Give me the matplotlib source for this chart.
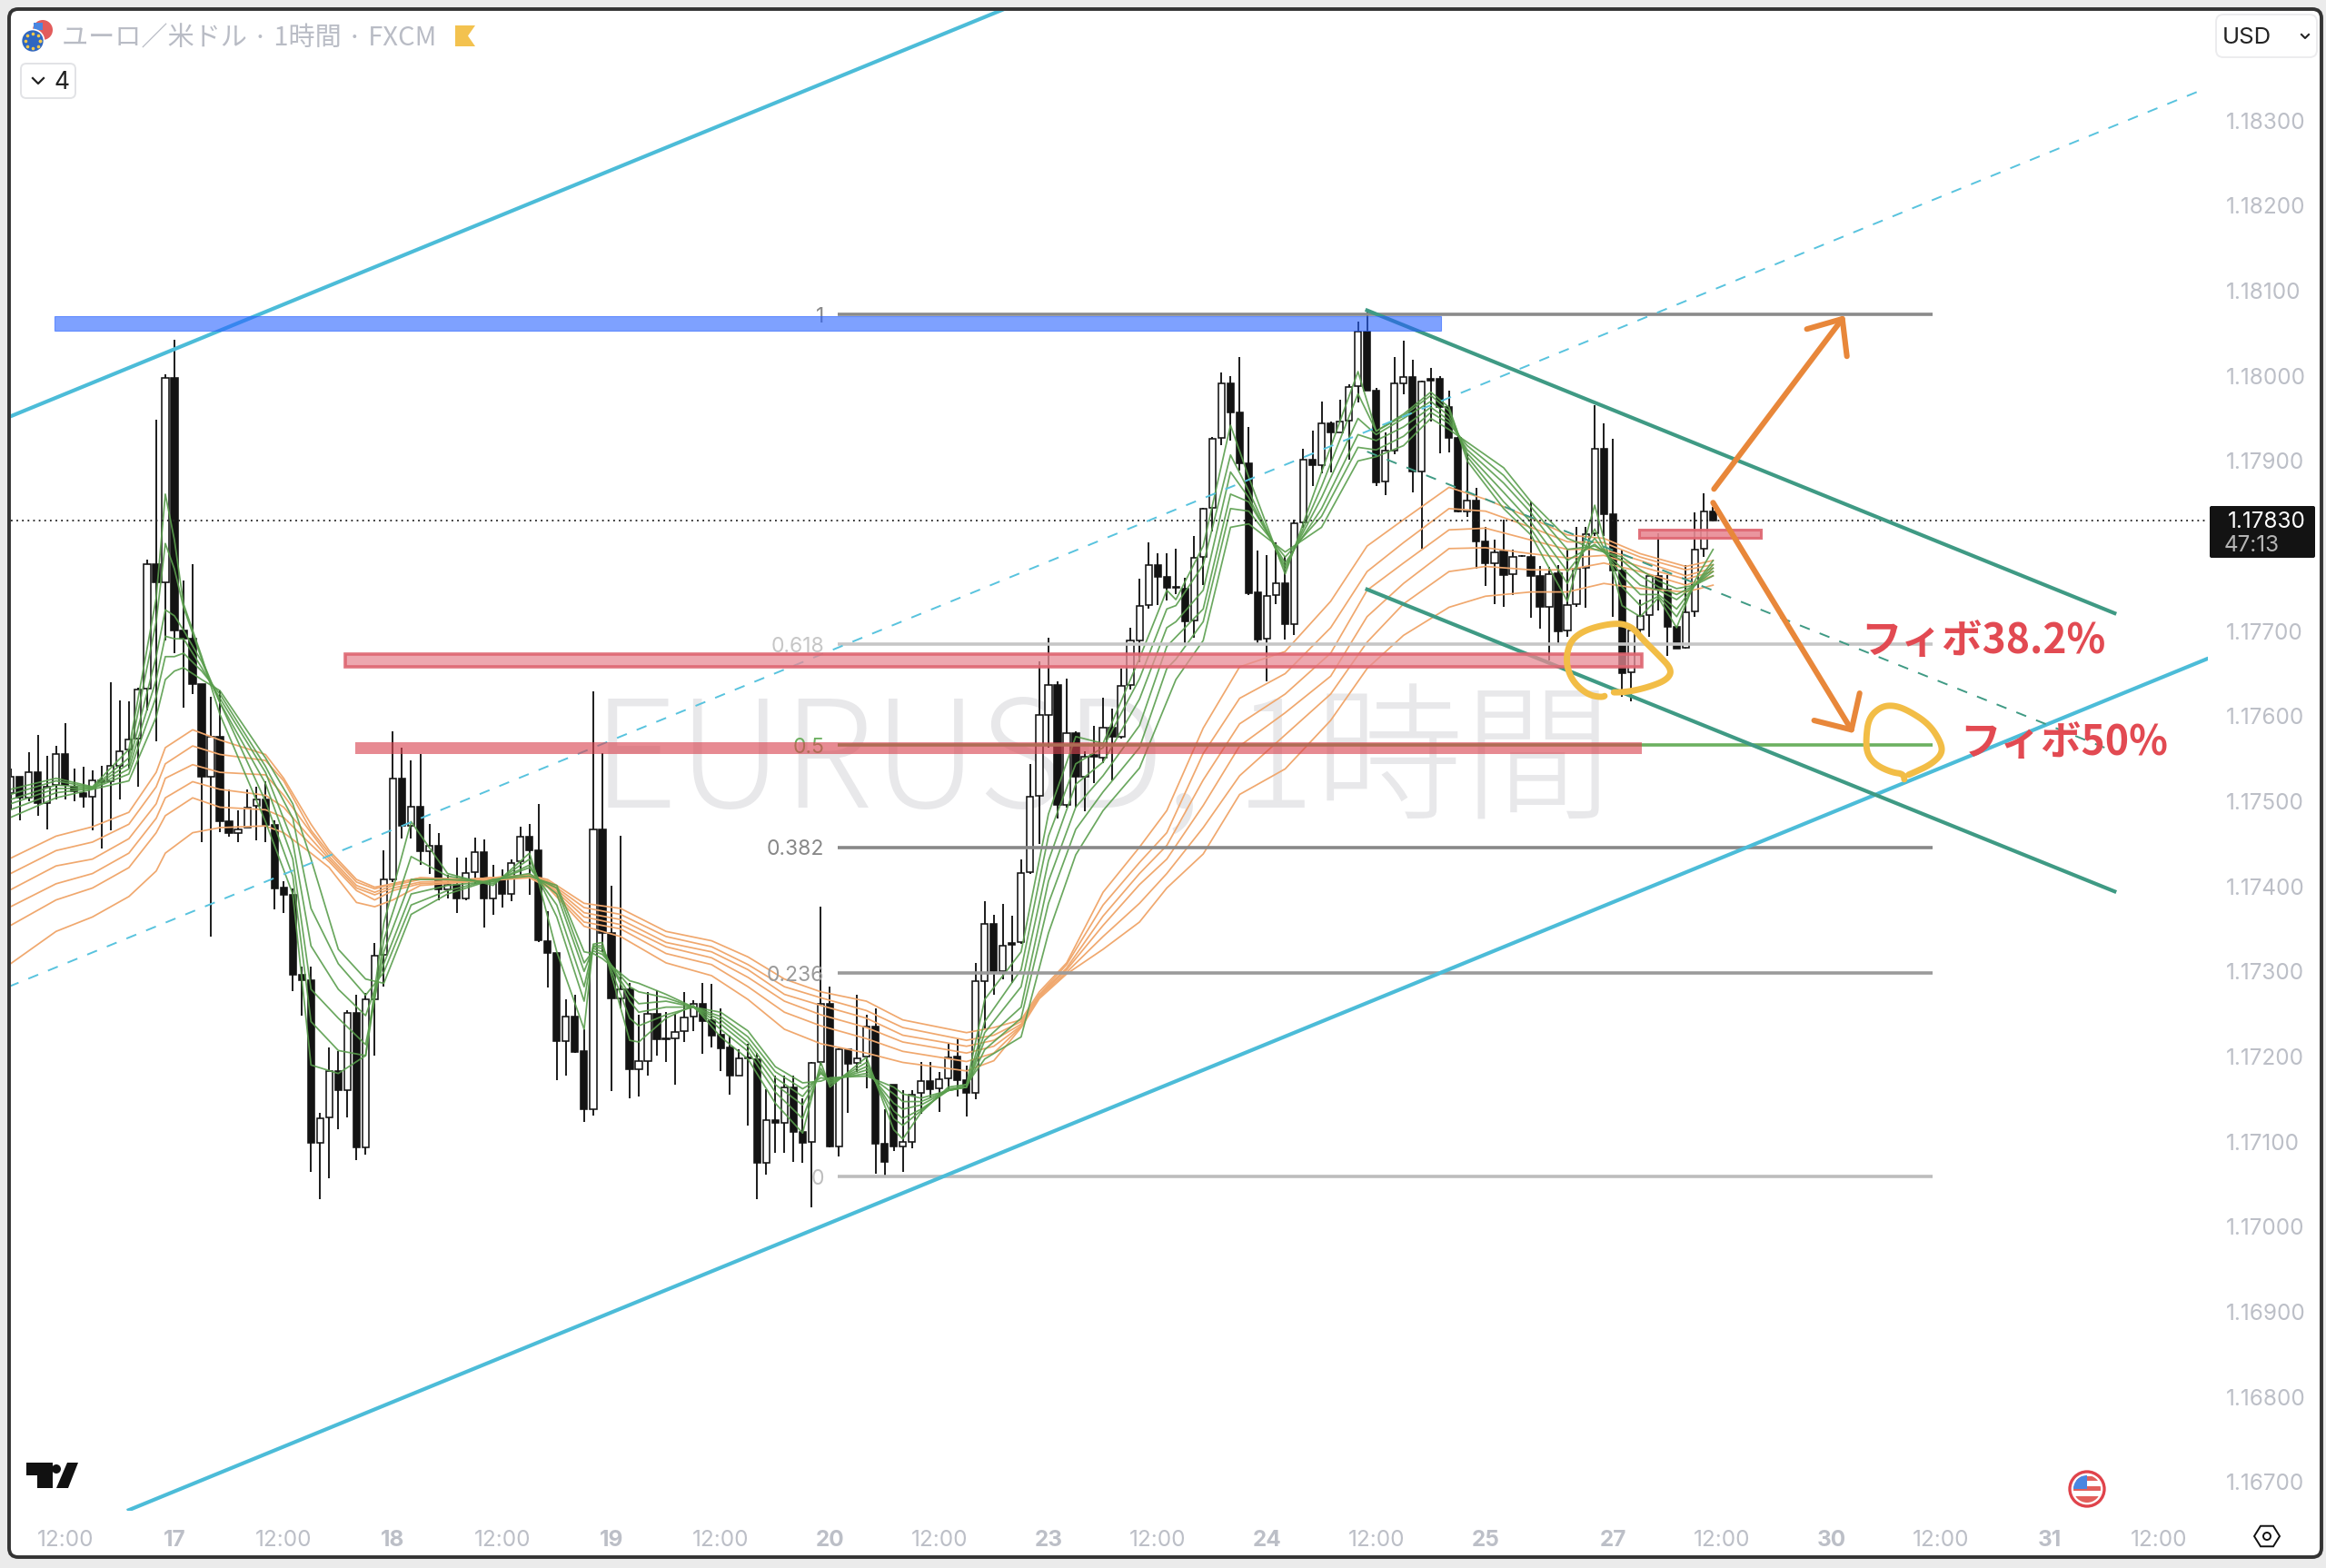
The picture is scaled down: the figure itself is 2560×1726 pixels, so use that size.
import numpy as np
import matplotlib
matplotlib.use('Agg')
import matplotlib.pyplot as plt
from matplotlib.patches import Rectangle, FancyBboxPatch, Circle, Polygon

plt.rcParams['font.family'] = ['Noto Sans CJK JP', 'DejaVu Sans']

# ---------------------------------------------------------------- candles
# one bar per hour, bar 0 is the "17" tick
first_bar = -18
opens = [
    1.17510, 1.17529, 1.17504, 1.17534, 1.17498, 1.17519, 1.17555, 1.17517, 1.17510, 1.17505,
    1.17524, 1.17524, 1.17542, 1.17561, 1.17574, 1.17632, 1.17779, 1.17757, 1.17997, 1.17701,
    1.17691, 1.17638, 1.17529, 1.17576, 1.17476, 1.17463, 1.17469, 1.17495, 1.17502, 1.17472,
    1.17398, 1.17390, 1.17296, 1.17290, 1.17098, 1.17128, 1.17183, 1.17160, 1.17251, 1.17093,
    1.17267, 1.17319, 1.17408, 1.17527, 1.17471, 1.17493, 1.17441, 1.17448, 1.17396, 1.17402,
    1.17386, 1.17417, 1.17440, 1.17386, 1.17407, 1.17391, 1.17429, 1.17458, 1.17442, 1.17335,
    1.17322, 1.17218, 1.17247, 1.17206, 1.17138, 1.17467, 1.17345, 1.17268, 1.17279, 1.17185,
    1.17195, 1.17250, 1.17221, 1.17221, 1.17230, 1.17247, 1.17262, 1.17242, 1.17225, 1.17210,
    1.17177, 1.17199, 1.17197, 1.17075, 1.17125, 1.17122, 1.17163, 1.17111, 1.17100, 1.17193,
    1.17262, 1.17094, 1.17208, 1.17192, 1.17200, 1.17235, 1.17097, 1.17167, 1.17094, 1.17100,
    1.17157, 1.17171, 1.17163, 1.17174, 1.17200, 1.17172, 1.17157, 1.17289, 1.17356, 1.17300,
    1.17333, 1.17334, 1.17417, 1.17506, 1.17601, 1.17637, 1.17496, 1.17580, 1.17529, 1.17554,
    1.17551, 1.17586, 1.17576, 1.17637, 1.17689, 1.17731, 1.17777, 1.17764, 1.17752, 1.17750,
    1.17712, 1.17787, 1.17845, 1.17927, 1.17991, 1.17957, 1.17897, 1.17745, 1.17691, 1.17742,
    1.17756, 1.17708, 1.17828, 1.17901, 1.17895, 1.17944, 1.17934, 1.17947, 1.17988, 1.18052,
    1.17983, 1.17876, 1.17912, 1.17991, 1.17999, 1.17888, 1.17996, 1.17996, 1.17963, 1.17927,
    1.17841, 1.17853, 1.17805, 1.17780, 1.17794, 1.17767, 1.17788, 1.17787, 1.17765, 1.17729,
    1.17768, 1.17701, 1.17732, 1.17774, 1.17815, 1.17914, 1.17837, 1.17771, 1.17652, 1.17702,
    1.17719, 1.17765, 1.17749, 1.17705, 1.17680, 1.17723, 1.17797, 1.17840,
]
closes = [
    1.17529, 1.17504, 1.17534, 1.17498, 1.17517, 1.17555, 1.17519, 1.17512, 1.17505, 1.17524,
    1.17522, 1.17541, 1.17559, 1.17572, 1.17631, 1.17779, 1.17757, 1.17997, 1.17701, 1.17691,
    1.17638, 1.17529, 1.17576, 1.17476, 1.17463, 1.17467, 1.17492, 1.17502, 1.17472, 1.17398,
    1.17390, 1.17296, 1.17290, 1.17098, 1.17127, 1.17183, 1.17160, 1.17251, 1.17093, 1.17267,
    1.17318, 1.17408, 1.17527, 1.17471, 1.17493, 1.17441, 1.17448, 1.17396, 1.17402, 1.17386,
    1.17416, 1.17440, 1.17386, 1.17407, 1.17391, 1.17427, 1.17458, 1.17442, 1.17337, 1.17322,
    1.17218, 1.17247, 1.17205, 1.17138, 1.17467, 1.17345, 1.17268, 1.17279, 1.17185, 1.17194,
    1.17250, 1.17220, 1.17220, 1.17229, 1.17246, 1.17262, 1.17242, 1.17225, 1.17210, 1.17177,
    1.17198, 1.17198, 1.17075, 1.17125, 1.17122, 1.17163, 1.17111, 1.17099, 1.17192, 1.17262,
    1.17094, 1.17208, 1.17191, 1.17198, 1.17235, 1.17097, 1.17076, 1.17094, 1.17099, 1.17155,
    1.17171, 1.17162, 1.17173, 1.17199, 1.17172, 1.17157, 1.17288, 1.17356, 1.17300, 1.17330,
    1.17331, 1.17416, 1.17505, 1.17601, 1.17637, 1.17496, 1.17580, 1.17529, 1.17552, 1.17552,
    1.17586, 1.17576, 1.17635, 1.17689, 1.17730, 1.17777, 1.17764, 1.17751, 1.17751, 1.17711,
    1.17786, 1.17844, 1.17926, 1.17991, 1.17957, 1.17897, 1.17745, 1.17690, 1.17741, 1.17756,
    1.17708, 1.17827, 1.17901, 1.17895, 1.17944, 1.17934, 1.17946, 1.17987, 1.18052, 1.17983,
    1.17875, 1.17912, 1.17991, 1.17999, 1.17888, 1.17993, 1.17994, 1.17963, 1.17927, 1.17841,
    1.17853, 1.17805, 1.17780, 1.17793, 1.17766, 1.17787, 1.17788, 1.17765, 1.17729, 1.17767,
    1.17700, 1.17731, 1.17773, 1.17814, 1.17914, 1.17837, 1.17771, 1.17651, 1.17701, 1.17718,
    1.17765, 1.17749, 1.17705, 1.17679, 1.17722, 1.17796, 1.17840, 1.17830,
]
highs = [
    1.17538, 1.17529, 1.17558, 1.17578, 1.17553, 1.17565, 1.17592, 1.17538, 1.17541, 1.17536,
    1.17542, 1.17640, 1.17619, 1.17617, 1.17633, 1.17784, 1.17948, 1.18002, 1.18042, 1.17759,
    1.17779, 1.17638, 1.17623, 1.17630, 1.17514, 1.17489, 1.17514, 1.17517, 1.17524, 1.17478,
    1.17406, 1.17398, 1.17306, 1.17306, 1.17134, 1.17211, 1.17206, 1.17254, 1.17273, 1.17275,
    1.17333, 1.17442, 1.17582, 1.17563, 1.17548, 1.17555, 1.17473, 1.17463, 1.17414, 1.17434,
    1.17434, 1.17457, 1.17455, 1.17425, 1.17420, 1.17432, 1.17470, 1.17473, 1.17497, 1.17371,
    1.17322, 1.17267, 1.17273, 1.17232, 1.17629, 1.17557, 1.17401, 1.17459, 1.17286, 1.17249,
    1.17276, 1.17278, 1.17252, 1.17250, 1.17276, 1.17266, 1.17286, 1.17285, 1.17256, 1.17225,
    1.17208, 1.17215, 1.17204, 1.17162, 1.17178, 1.17177, 1.17177, 1.17151, 1.17193, 1.17376,
    1.17282, 1.17209, 1.17209, 1.17272, 1.17249, 1.17256, 1.17138, 1.17167, 1.17160, 1.17160,
    1.17193, 1.17194, 1.17182, 1.17215, 1.17220, 1.17189, 1.17310, 1.17382, 1.17366, 1.17379,
    1.17365, 1.17432, 1.17544, 1.17664, 1.17692, 1.17641, 1.17644, 1.17582, 1.17559, 1.17589,
    1.17622, 1.17609, 1.17656, 1.17704, 1.17762, 1.17804, 1.17792, 1.17792, 1.17797, 1.17763,
    1.17812, 1.17845, 1.17928, 1.18004, 1.18000, 1.18022, 1.17940, 1.17795, 1.17789, 1.17804,
    1.17788, 1.17831, 1.17914, 1.17936, 1.17970, 1.17946, 1.17972, 1.17990, 1.18064, 1.18077,
    1.17986, 1.17933, 1.18022, 1.18041, 1.18019, 1.17994, 1.18009, 1.18000, 1.17983, 1.17930,
    1.17909, 1.17868, 1.17823, 1.17808, 1.17831, 1.17796, 1.17789, 1.17852, 1.17777, 1.17775,
    1.17778, 1.17796, 1.17822, 1.17822, 1.17966, 1.17944, 1.17926, 1.17796, 1.17704, 1.17737,
    1.17766, 1.17815, 1.17766, 1.17705, 1.17778, 1.17840, 1.17862, 1.17846,
]
lows = [
    1.17490, 1.17478, 1.17500, 1.17483, 1.17467, 1.17502, 1.17502, 1.17500, 1.17493, 1.17466,
    1.17444, 1.17466, 1.17502, 1.17538, 1.17517, 1.17607, 1.17570, 1.17689, 1.17674, 1.17610,
    1.17626, 1.17452, 1.17341, 1.17464, 1.17458, 1.17452, 1.17469, 1.17454, 1.17452, 1.17373,
    1.17369, 1.17277, 1.17248, 1.17064, 1.17032, 1.17057, 1.17115, 1.17128, 1.17078, 1.17085,
    1.17201, 1.17282, 1.17405, 1.17456, 1.17456, 1.17425, 1.17415, 1.17384, 1.17386, 1.17369,
    1.17384, 1.17403, 1.17352, 1.17367, 1.17375, 1.17383, 1.17414, 1.17390, 1.17335, 1.17281,
    1.17172, 1.17177, 1.17204, 1.17123, 1.17131, 1.17323, 1.17159, 1.17256, 1.17151, 1.17153,
    1.17177, 1.17201, 1.17194, 1.17167, 1.17217, 1.17230, 1.17203, 1.17211, 1.17183, 1.17155,
    1.17177, 1.17119, 1.17032, 1.17061, 1.17087, 1.17087, 1.17076, 1.17075, 1.17023, 1.17189,
    1.17093, 1.17082, 1.17134, 1.17182, 1.17163, 1.17062, 1.17058, 1.17089, 1.17064, 1.17092,
    1.17133, 1.17152, 1.17135, 1.17162, 1.17153, 1.17129, 1.17150, 1.17232, 1.17272, 1.17291,
    1.17286, 1.17332, 1.17415, 1.17450, 1.17563, 1.17480, 1.17493, 1.17493, 1.17488, 1.17521,
    1.17545, 1.17525, 1.17574, 1.17631, 1.17663, 1.17726, 1.17731, 1.17736, 1.17743, 1.17686,
    1.17692, 1.17754, 1.17817, 1.17919, 1.17924, 1.17889, 1.17742, 1.17684, 1.17641, 1.17732,
    1.17690, 1.17695, 1.17821, 1.17871, 1.17885, 1.17887, 1.17933, 1.17902, 1.17969, 1.17983,
    1.17871, 1.17860, 1.17908, 1.17978, 1.17863, 1.17797, 1.17946, 1.17909, 1.17910, 1.17840,
    1.17834, 1.17773, 1.17753, 1.17732, 1.17728, 1.17742, 1.17787, 1.17716, 1.17703, 1.17666,
    1.17686, 1.17693, 1.17728, 1.17727, 1.17812, 1.17812, 1.17717, 1.17623, 1.17617, 1.17691,
    1.17693, 1.17724, 1.17671, 1.17679, 1.17679, 1.17717, 1.17787, 1.17830,
]

# ---------------------------------------------------------------- ribbons
green_bars = [-18, -13, -9, -5, -2, -1, 0, 1, 3, 5, 10, 13, 15, 18, 21, 23, 26, 30, 35, 39, 40, 42,
              45, 46, 47, 50, 51, 54, 57, 60, 63, 66, 69, 71, 72, 76, 79, 80, 82, 85, 87, 89, 93,
              96, 99, 102, 106, 109, 110, 113, 116, 118, 122, 126, 130, 132, 135, 138, 140, 142,
              146, 149, 153, 156, 159, 161, 163, 165, 167, 169]
green_levels = [
    [1.17514, 1.17508, 1.17502, 1.17497, 1.17490, 1.17481],
    [1.17527, 1.17524, 1.17519, 1.17515, 1.17510, 1.17504],
    [1.17517, 1.17516, 1.17516, 1.17515, 1.17515, 1.17514],
    [1.17561, 1.17551, 1.17544, 1.17538, 1.17532, 1.17524],
    [1.17739, 1.17711, 1.17670, 1.17643, 1.17623, 1.17599],
    [1.17861, 1.17803, 1.17725, 1.17694, 1.17670, 1.17643],
    [1.17807, 1.17773, 1.17718, 1.17691, 1.17670, 1.17653],
    [1.17732, 1.17728, 1.17701, 1.17691, 1.17674, 1.17657],
    [1.17670, 1.17667, 1.17664, 1.17657, 1.17653, 1.17643],
    [1.17602, 1.17616, 1.17616, 1.17621, 1.17626, 1.17630],
    [1.17476, 1.17500, 1.17521, 1.17534, 1.17541, 1.17551],
    [1.17391, 1.17412, 1.17432, 1.17452, 1.17480, 1.17497],
    [1.17190, 1.17241, 1.17279, 1.17330, 1.17374, 1.17432],
    [1.17180, 1.17207, 1.17245, 1.17279, 1.17309, 1.17326],
    [1.17201, 1.17201, 1.17214, 1.17248, 1.17272, 1.17291],
    [1.17357, 1.17337, 1.17323, 1.17309, 1.17299, 1.17286],
    [1.17476, 1.17435, 1.17408, 1.17391, 1.17378, 1.17367],
    [1.17415, 1.17412, 1.17408, 1.17401, 1.17395, 1.17391],
    [1.17401, 1.17403, 1.17405, 1.17406, 1.17408, 1.17408],
    [1.17439, 1.17432, 1.17425, 1.17422, 1.17415, 1.17412],
    [1.17405, 1.17408, 1.17408, 1.17408, 1.17408, 1.17408],
    [1.17323, 1.17364, 1.17378, 1.17391, 1.17398, 1.17401],
    [1.17232, 1.17265, 1.17282, 1.17300, 1.17310, 1.17323],
    [1.17332, 1.17330, 1.17329, 1.17327, 1.17324, 1.17321],
    [1.17334, 1.17330, 1.17327, 1.17323, 1.17320, 1.17315],
    [1.17219, 1.17245, 1.17265, 1.17273, 1.17282, 1.17289],
    [1.17217, 1.17236, 1.17252, 1.17262, 1.17276, 1.17286],
    [1.17245, 1.17249, 1.17258, 1.17265, 1.17269, 1.17273],
    [1.17260, 1.17258, 1.17258, 1.17258, 1.17258, 1.17258],
    [1.17223, 1.17232, 1.17238, 1.17243, 1.17247, 1.17252],
    [1.17197, 1.17206, 1.17212, 1.17217, 1.17223, 1.17230],
    [1.17145, 1.17158, 1.17167, 1.17175, 1.17182, 1.17188],
    [1.17110, 1.17127, 1.17143, 1.17153, 1.17162, 1.17169],
    [1.17193, 1.17186, 1.17182, 1.17180, 1.17175, 1.17171],
    [1.17164, 1.17167, 1.17169, 1.17171, 1.17173, 1.17175],
    [1.17199, 1.17193, 1.17188, 1.17184, 1.17180, 1.17177],
    [1.17114, 1.17127, 1.17136, 1.17145, 1.17156, 1.17164],
    [1.17103, 1.17119, 1.17127, 1.17138, 1.17147, 1.17156],
    [1.17134, 1.17136, 1.17138, 1.17143, 1.17147, 1.17151],
    [1.17164, 1.17162, 1.17160, 1.17160, 1.17160, 1.17160],
    [1.17167, 1.17164, 1.17164, 1.17164, 1.17164, 1.17167],
    [1.17267, 1.17241, 1.17228, 1.17219, 1.17208, 1.17197],
    [1.17323, 1.17302, 1.17282, 1.17258, 1.17245, 1.17223],
    [1.17485, 1.17459, 1.17430, 1.17406, 1.17380, 1.17345],
    [1.17576, 1.17544, 1.17520, 1.17493, 1.17467, 1.17437],
    [1.17568, 1.17563, 1.17546, 1.17530, 1.17511, 1.17489],
    [1.17668, 1.17644, 1.17620, 1.17589, 1.17563, 1.17539],
    [1.17748, 1.17726, 1.17704, 1.17682, 1.17656, 1.17617],
    [1.17737, 1.17730, 1.17711, 1.17693, 1.17667, 1.17643],
    [1.17800, 1.17778, 1.17748, 1.17726, 1.17711, 1.17689],
    [1.17942, 1.17907, 1.17887, 1.17861, 1.17844, 1.17822],
    [1.17881, 1.17865, 1.17857, 1.17852, 1.17841, 1.17826],
    [1.17767, 1.17772, 1.17776, 1.17780, 1.17787, 1.17793],
    [1.17887, 1.17870, 1.17857, 1.17844, 1.17835, 1.17822],
    [1.18005, 1.17979, 1.17950, 1.17931, 1.17916, 1.17900],
    [1.17935, 1.17935, 1.17931, 1.17924, 1.17913, 1.17905],
    [1.17955, 1.17953, 1.17950, 1.17940, 1.17929, 1.17918],
    [1.17981, 1.17977, 1.17970, 1.17963, 1.17957, 1.17950],
    [1.17963, 1.17959, 1.17953, 1.17948, 1.17944, 1.17937],
    [1.17900, 1.17905, 1.17909, 1.17913, 1.17918, 1.17922],
    [1.17844, 1.17852, 1.17863, 1.17874, 1.17883, 1.17892],
    [1.17813, 1.17820, 1.17828, 1.17839, 1.17846, 1.17852],
    [1.17735, 1.17756, 1.17770, 1.17783, 1.17796, 1.17809],
    [1.17848, 1.17820, 1.17809, 1.17802, 1.17800, 1.17796],
    [1.17730, 1.17752, 1.17765, 1.17774, 1.17783, 1.17787],
    [1.17717, 1.17730, 1.17743, 1.17754, 1.17765, 1.17772],
    [1.17739, 1.17741, 1.17743, 1.17748, 1.17752, 1.17759],
    [1.17704, 1.17717, 1.17726, 1.17737, 1.17743, 1.17750],
    [1.17759, 1.17754, 1.17754, 1.17754, 1.17754, 1.17754],
    [1.17796, 1.17783, 1.17778, 1.17774, 1.17770, 1.17765],
]
orange_bars = [-18, -13, -9, -5, -2, -1, 2, 5, 10, 12, 15, 17, 20, 22, 24, 27, 32, 39, 41, 45, 49, 54,
               59, 63, 67, 71, 76, 80, 87, 90, 93, 95, 98, 102, 106, 109, 113, 117, 122, 127, 131,
               135, 140, 144, 149, 153, 157, 161, 166, 169]
orange_levels = [
    [1.17433, 1.17415, 1.17396, 1.17376, 1.17354, 1.17309],
    [1.17459, 1.17442, 1.17424, 1.17403, 1.17384, 1.17347],
    [1.17470, 1.17452, 1.17432, 1.17415, 1.17398, 1.17364],
    [1.17487, 1.17473, 1.17456, 1.17439, 1.17422, 1.17388],
    [1.17534, 1.17517, 1.17497, 1.17480, 1.17463, 1.17418],
    [1.17563, 1.17544, 1.17527, 1.17504, 1.17483, 1.17439],
    [1.17584, 1.17565, 1.17543, 1.17523, 1.17504, 1.17463],
    [1.17572, 1.17555, 1.17534, 1.17514, 1.17493, 1.17469],
    [1.17555, 1.17548, 1.17531, 1.17507, 1.17490, 1.17471],
    [1.17527, 1.17524, 1.17507, 1.17493, 1.17481, 1.17463],
    [1.17473, 1.17466, 1.17463, 1.17456, 1.17449, 1.17439],
    [1.17442, 1.17439, 1.17435, 1.17432, 1.17429, 1.17422],
    [1.17408, 1.17405, 1.17401, 1.17398, 1.17395, 1.17381],
    [1.17399, 1.17397, 1.17393, 1.17390, 1.17384, 1.17376],
    [1.17403, 1.17403, 1.17401, 1.17398, 1.17395, 1.17384],
    [1.17410, 1.17410, 1.17408, 1.17405, 1.17403, 1.17401],
    [1.17408, 1.17408, 1.17408, 1.17407, 1.17406, 1.17405],
    [1.17413, 1.17413, 1.17413, 1.17412, 1.17412, 1.17410],
    [1.17408, 1.17406, 1.17405, 1.17403, 1.17401, 1.17399],
    [1.17380, 1.17375, 1.17369, 1.17364, 1.17358, 1.17353],
    [1.17374, 1.17367, 1.17361, 1.17355, 1.17350, 1.17341],
    [1.17347, 1.17341, 1.17334, 1.17329, 1.17321, 1.17310],
    [1.17336, 1.17329, 1.17323, 1.17316, 1.17308, 1.17295],
    [1.17317, 1.17308, 1.17302, 1.17293, 1.17282, 1.17267],
    [1.17291, 1.17282, 1.17273, 1.17265, 1.17252, 1.17232],
    [1.17276, 1.17269, 1.17260, 1.17249, 1.17236, 1.17215],
    [1.17265, 1.17254, 1.17245, 1.17234, 1.17221, 1.17204],
    [1.17243, 1.17234, 1.17225, 1.17217, 1.17206, 1.17193],
    [1.17228, 1.17219, 1.17212, 1.17204, 1.17194, 1.17183],
    [1.17234, 1.17225, 1.17219, 1.17212, 1.17204, 1.17195],
    [1.17243, 1.17241, 1.17238, 1.17236, 1.17235, 1.17234],
    [1.17276, 1.17273, 1.17272, 1.17271, 1.17270, 1.17268],
    [1.17310, 1.17308, 1.17304, 1.17302, 1.17299, 1.17297],
    [1.17393, 1.17378, 1.17365, 1.17354, 1.17341, 1.17326],
    [1.17446, 1.17428, 1.17415, 1.17402, 1.17380, 1.17358],
    [1.17489, 1.17463, 1.17448, 1.17432, 1.17415, 1.17398],
    [1.17586, 1.17556, 1.17525, 1.17495, 1.17469, 1.17438],
    [1.17658, 1.17621, 1.17591, 1.17565, 1.17530, 1.17508],
    [1.17676, 1.17650, 1.17626, 1.17604, 1.17578, 1.17538],
    [1.17735, 1.17704, 1.17674, 1.17647, 1.17626, 1.17595],
    [1.17800, 1.17770, 1.17748, 1.17717, 1.17687, 1.17656],
    [1.17831, 1.17804, 1.17780, 1.17756, 1.17732, 1.17695],
    [1.17869, 1.17844, 1.17819, 1.17797, 1.17770, 1.17728],
    [1.17855, 1.17841, 1.17821, 1.17798, 1.17776, 1.17741],
    [1.17833, 1.17822, 1.17807, 1.17791, 1.17772, 1.17746],
    [1.17813, 1.17805, 1.17796, 1.17786, 1.17772, 1.17746],
    [1.17809, 1.17804, 1.17796, 1.17789, 1.17780, 1.17756],
    [1.17791, 1.17787, 1.17783, 1.17776, 1.17770, 1.17750],
    [1.17776, 1.17772, 1.17765, 1.17761, 1.17754, 1.17746],
    [1.17783, 1.17778, 1.17774, 1.17770, 1.17765, 1.17754],
]

# ---------------------------------------------------------------- drawings (bar, price)
fib_bars = [72.9, 193.1]
fib_ratios = ['1', '0.618', '0.5', '0.382', '0.236', '0']
fib_prices = [1.18072, 1.17685, 1.17566, 1.17446, 1.17298, 1.17059]
fib_colors = ['#8a8a8a', '#c6c6c6', '#6cb060', '#888888', '#9a9a9a', '#bdbdbd']

upper_channel = ([-18.1, 91.1], [1.17952, 1.18431])
lower_channel = ([-5.2, 223.4], [1.16666, 1.17668])
mid_channel = ([-18.2, 222.9], [1.17282, 1.18337])
down_upper = ([131, 213.1], [1.18077, 1.17721])
down_lower = ([131, 213.1], [1.17749, 1.17394])
down_mid = ([131, 212], [1.17911, 1.17563])

blue_zone = (-13.2, 139.1, 1.18053, 1.18070)
red_zone_a = (18.8, 161.2, 1.17658, 1.17673)
red_zone_b = (19.9, 161.2, 1.17555, 1.17569)
red_zone_c = (160.9, 174.2, 1.17810, 1.17819)

arrow_up = ([169.1, 183.2], [1.17867, 1.18067])
arrow_up_head = ([179.3, 183.2, 183.7], [1.18055, 1.18067, 1.18023])
arrow_down = ([169, 184.2], [1.17851, 1.17584])
arrow_down_head = ([180.1, 184.2, 185.1], [1.17595, 1.17584, 1.17627])

ring_a_bars = [157.3, 156.8, 155.3, 153.8, 153.0, 152.9, 153.5, 155.3, 158.4, 160.1, 161.2, 162.9,
               164.5, 164.0, 161.9, 159.4, 157.1]
ring_a_prices = [1.17625, 1.17622, 1.17625, 1.17638, 1.17655, 1.17673, 1.17691, 1.17703, 1.17710,
                 1.17705, 1.17691, 1.17673, 1.17655, 1.17643, 1.17634, 1.17628, 1.17628]
ring_b_bars = [190.0, 190.0, 188.6, 186.8, 185.9, 185.8, 186.1, 187.4, 188.8, 190.4, 192.7, 194.0,
               194.2, 192.9, 191.1, 190.0]
ring_b_prices = [1.17521, 1.17532, 1.17534, 1.17543, 1.17556, 1.17574, 1.17598, 1.17611, 1.17613,
                 1.17607, 1.17591, 1.17570, 1.17556, 1.17543, 1.17534, 1.17529]

last_price = 1.17830
# 1.17800 sits behind the last price tag in the reference, so it has no label
y_ticks = [1.167, 1.168, 1.169, 1.170, 1.171, 1.172, 1.173, 1.174, 1.175, 1.176, 1.177,
           1.179, 1.180, 1.181, 1.182, 1.183]
x_ticks = [-12, 0, 12, 24, 36, 48, 60, 72, 84, 96, 108, 120, 132, 144, 158, 170, 182, 194, 206, 218]
x_labels = ['12:00', '17', '12:00', '18', '12:00', '19', '12:00', '20', '12:00', '23', '12:00', '24',
            '12:00', '25', '27', '12:00', '30', '12:00', '31', '12:00']


def smooth(xs, ys, rounds=3):
    # corner cutting, keeps the hand drawn look of the rings
    pts = np.column_stack([xs, ys])
    for _ in range(rounds):
        q = 0.75 * pts[:-1] + 0.25 * pts[1:]
        r = 0.25 * pts[:-1] + 0.75 * pts[1:]
        pts = np.empty((len(q) * 2, 2))
        pts[0::2], pts[1::2] = q, r
    return pts[:, 0], pts[:, 1]


W, H = 2560, 1726
fig = plt.figure(figsize=(W / 100, H / 100), dpi=100, facecolor='#ebebeb')

# page chrome in pixel coordinates, behind the chart
bg = fig.add_axes([0, 0, 1, 1], zorder=0)
bg.set_xlim(0, W)
bg.set_ylim(H, 0)
bg.axis('off')
bg.add_patch(FancyBboxPatch((10, 10), 2545, 1704, boxstyle='round,pad=0,rounding_size=10',
                            fc='white', ec='#333333', lw=2.8))

# header
bg.add_patch(Circle((47, 33), 11, fc='#e25c5c', ec='none'))
bg.add_patch(Rectangle((37, 25), 10, 8, fc='#4a86e0', ec='none', clip_path=None))
bg.add_patch(Circle((36, 45), 12.5, fc='#2f66c0', ec='white', lw=1.2))
bg.scatter(36 + 8 * np.cos(np.linspace(0, 2 * np.pi, 9)), 45 + 8 * np.sin(np.linspace(0, 2 * np.pi, 9)),
           s=2.5, c='#f2c94c', zorder=5)
bg.text(68, 42, 'ユーロ／米ドル · 1時間 · FXCM', fontsize=21, color='#b9bcc5', va='center', ha='left')
bg.add_patch(Polygon([(501, 28), (523, 28), (515, 39.5), (523, 51), (501, 51)], fc='#f3c24f', ec='none'))
bg.add_patch(FancyBboxPatch((23, 70), 60, 38, boxstyle='round,pad=0,rounding_size=6',
                            fc='white', ec='#e2e3e6', lw=1.4))
bg.plot([36, 42, 48], [86, 92, 86], color='#222222', lw=1.6)
bg.text(68, 91, '4', fontsize=19, color='#222222', va='center', ha='center', family=['Inter', 'DejaVu Sans'])
bg.add_patch(FancyBboxPatch((2439, 16), 111, 47, boxstyle='round,pad=0,rounding_size=8',
                            fc='white', ec='#ececee', lw=1.4))
bg.text(2446, 42, 'USD', fontsize=18.5, color='#222222', va='center', ha='left', family=['Inter', 'DejaVu Sans'])
bg.plot([2533, 2537, 2541], [38, 42, 38], color='#222222', lw=1.5)

# last price tag
bg.add_patch(FancyBboxPatch((2432, 557), 116, 57, boxstyle='round,pad=0,rounding_size=2',
                            fc='#131313', ec='none'))
bg.text(2538, 574, f'{last_price:.5f}', fontsize=17.5, color='white', va='center', ha='right',
        family=['Inter', 'DejaVu Sans'])
bg.text(2448, 600, '47:13', fontsize=17.5, color='#b4b4b4', va='center', ha='left',
        family=['Inter', 'DejaVu Sans'])

# TradingView mark
bg.add_patch(Polygon([(29, 1610), (58, 1610), (58, 1638), (41, 1638), (41, 1624), (29, 1624)], fc='#111111'))
bg.add_patch(Circle((62, 1617), 5, fc='#111111'))
bg.add_patch(Polygon([(74, 1610), (86, 1610), (75, 1638), (62, 1638)], fc='#111111'))

# flag badge
bg.add_patch(Circle((2297, 1639), 19, fc='white', ec='#e0434b', lw=2.4))
flag = Circle((2297, 1639), 15, transform=bg.transData)
for top, tall in [(1625, 5), (1636, 5), (1647, 8)]:
    r = bg.add_patch(Rectangle((2282, top), 30, tall, fc='#e2605c', ec='none'))
    r.set_clip_path(flag)
r = bg.add_patch(Rectangle((2282, 1624), 15, 15, fc='#4a86e0', ec='none'))
r.set_clip_path(flag)

# settings hexagon
ang = np.radians([0, 60, 120, 180, 240, 300])
bg.add_patch(Polygon(np.column_stack([2495 + 14 * np.cos(ang), 1691 + 13 * np.sin(ang)]),
                     fc='none', ec='#111111', lw=1.4))
bg.add_patch(Circle((2495, 1691), 4, fc='none', ec='#111111', lw=1.4))

# chart
ax = fig.add_axes([12 / W, 1 - 1663 / H, (2430 - 12) / W, (1663 - 12) / H], zorder=1)
ax.patch.set_alpha(0)
ax.set_xlim(-17.96, 223.35)
ax.set_ylim(1.16666, 1.18429)
for s in ax.spines.values():
    s.set_visible(False)

ax.yaxis.tick_right()
ax.set_yticks(y_ticks)
ax.set_yticklabels([f'{v:.5f}' for v in y_ticks], family=['Inter', 'DejaVu Sans'])
ax.set_xticks(x_ticks)
ax.set_xticklabels(x_labels, family=['Inter', 'DejaVu Sans'])
ax.tick_params(axis='y', length=0, pad=14, labelsize=17.5, labelcolor='#bcbfc7')
ax.tick_params(axis='x', length=0, pad=15, labelsize=17.5, labelcolor='#bcbfc7')
for lab in ax.get_xticklabels():
    if ':' not in lab.get_text():
        lab.set_fontweight('bold')

# watermark
ax.text(45.9, 1.17542, 'EURUSD, 1時間', fontsize=118, color='#e8e8ea', va='center', ha='left', zorder=0.5,
        family=['Noto Sans CJK JP', 'DejaVu Sans'], fontweight='light')

# candles
o, c, h, l = map(np.array, (opens, closes, highs, lows))
bars = np.arange(first_bar, first_bar + len(o))
up = c > o
ax.vlines(bars, l, h, color='#131313', lw=1.35, zorder=2)
ax.bar(bars, np.abs(c - o) + 1e-6, bottom=np.minimum(o, c), width=0.72,
       color=np.where(up, 'white', '#131313'), edgecolor='#131313', lw=1.15, zorder=2.5)

# ribbons
ga = np.array(green_levels)
oa = np.array(orange_levels)
for k in range(6):
    ax.plot(orange_bars, oa[:, k], color='#f0a86e', lw=1.25, zorder=3)
for k in range(6):
    ax.plot(green_bars, ga[:, k], color='#5a9e4d', lw=1.25, alpha=0.9, zorder=3.2)

# fib levels
for ratio, price, col in zip(fib_ratios, fib_prices, fib_colors):
    ax.plot(fib_bars, [price, price], color=col, lw=2.6, zorder=3.5, solid_capstyle='butt')
    ax.annotate(ratio, (fib_bars[0] - 1.5, price), xytext=(0, -2), textcoords='offset points', color=col,
                fontsize=16.5, ha='right', va='center', zorder=3.5, family=['Inter', 'DejaVu Sans'])

# last price line
ax.axhline(last_price, color='#222222', lw=1.3, dashes=(1, 2.4), zorder=3.6)

# trend lines
for line in (upper_channel, lower_channel):
    ax.plot(*line, color='#4cbcd8', lw=3, zorder=4, solid_capstyle='butt')
ax.plot(*mid_channel, color='#58c3de', lw=1.4, dashes=(6, 6), zorder=4)
for line in (down_upper, down_lower):
    ax.plot(*line, color='#3f9a84', lw=3, zorder=4)
ax.plot(*down_mid, color='#3f9a84', lw=1.4, dashes=(6, 6), zorder=4)

# zones
x0, x1, y0, y1 = blue_zone
ax.add_patch(Rectangle((x0, y0), x1 - x0, y1 - y0, fc='#2962ff', ec='#2962ff', alpha=0.6, lw=0.8, zorder=4.5))
x0, x1, y0, y1 = red_zone_a
ax.add_patch(Rectangle((x0, y0), x1 - x0, y1 - y0, fc='#e88a94', ec='none', alpha=0.75, zorder=4.5))
ax.add_patch(Rectangle((x0, y0), x1 - x0, y1 - y0, fc='none', ec='#de6570', lw=2.6, alpha=0.9, zorder=4.6))
x0, x1, y0, y1 = red_zone_b
ax.add_patch(Rectangle((x0, y0), x1 - x0, y1 - y0, fc='#d9434f', ec='none', alpha=0.62, zorder=4.5))
x0, x1, y0, y1 = red_zone_c
ax.add_patch(Rectangle((x0, y0), x1 - x0, y1 - y0, fc='#e88a94', ec='#de6570', lw=2.2, alpha=0.9, zorder=4.6))

# hand drawn marks
for xs, ys in (arrow_up, arrow_up_head, arrow_down, arrow_down_head):
    ax.plot(xs, ys, color='#e8873a', lw=4.4, solid_capstyle='round', solid_joinstyle='round', zorder=5)
for xs, ys in ((ring_a_bars, ring_a_prices), (ring_b_bars, ring_b_prices)):
    ax.plot(*smooth(xs, ys), color='#f2bd46', lw=5, solid_capstyle='round', zorder=5)

ax.text(185.2, 1.17688, 'フィボ38.2%', color='#e24a52', fontsize=32, fontweight='bold', va='center', ha='left', zorder=6)
ax.text(196.1, 1.17568, 'フィボ50%', color='#e24a52', fontsize=32, fontweight='bold', va='center', ha='left', zorder=6)

fig.savefig('out.png', dpi=100, facecolor=fig.get_facecolor())
